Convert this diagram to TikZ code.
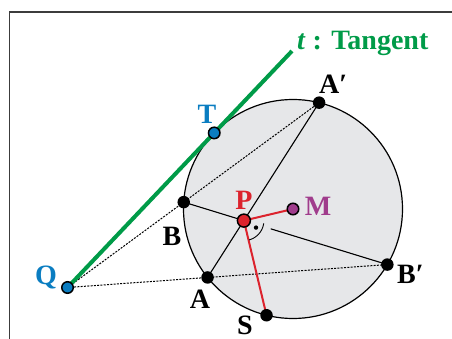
\documentclass[tikz,border=0pt]{standalone}
\usepackage{fontspec}
\setmainfont{Liberation Serif}
\usetikzlibrary{calc}
\definecolor{tgreen}{RGB}{0,155,72}
\definecolor{tblue}{RGB}{10,125,193}
\definecolor{pred}{RGB}{220,35,45}
\definecolor{mpurple}{RGB}{160,60,140}
\definecolor{cgray}{RGB}{230,231,233}
\definecolor{frame}{RGB}{60,60,60}
\tikzset{
  lab/.style={inner sep=0pt, font=\fontsize{28}{30}\selectfont\bfseries},
  chord/.style={line width=1.1pt, black},
  dashln/.style={line width=1pt, black, dash pattern=on 2pt off 1.3pt},
  redln/.style={line width=2pt, pred},
  bdot/.style={circle, fill=black, inner sep=0pt, minimum size=12.5pt},
  odot/.style={circle, draw=black, line width=1.5pt, inner sep=0pt, minimum size=11.5pt},
}
\begin{document}
\begin{tikzpicture}[x=1pt,y=-1pt]
\useasboundingbox (0,0) rectangle (452,339);
% frame
\draw[frame, line width=1.2pt] (452,12) -- (9.5,12) -- (9.5,339);
% circle
\coordinate (M) at (293,209);
\def\R{109.5}
\fill[cgray] (M) circle[radius=\R];
\draw[black, line width=1.2pt] (M) circle[radius=\R];
\coordinate (Ap) at ($(M)+(-76.2:\R)$);
\coordinate (B)  at ($(M)+(183.6:\R)$);
\coordinate (Bp) at ($(M)+(30.5:\R)$);
\coordinate (A)  at ($(M)+(141.3:\R)$);
\coordinate (S)  at ($(M)+(104:\R)$);
\coordinate (T)  at ($(M)+(-136:\R)$);
\coordinate (P) at (intersection of A--Ap and B--Bp);
\coordinate (Q) at (intersection of Ap--B and Bp--A);
\coordinate (Tend) at ($(Q)!1.53!(T)$);
\coordinate (Bgap) at ($(P)!28pt!(Bp)$);
% dashed secants
\draw[dashln] (Q) -- (Ap);
\draw[dashln] (Q) -- (Bp);
% chords
\draw[chord] (A) -- (Ap);
\draw[chord] (B) -- (P);
\draw[chord] (Bgap) -- (Bp);
% red segments
\draw[redln] (P) -- (M);
\draw[redln] (P) -- (S);
% right angle mark
\begin{scope}[shift={(P)}]
\draw[line width=0.9pt] plot[smooth, domain=75:8, samples=20] (\x:20);
\fill (30:14) circle[radius=2.2pt];
\end{scope}
% tangent
\draw[tgreen, line width=4pt] (Q) -- (Tend);
% points
\node[bdot] (nAp) at (Ap) {};
\node[bdot] (nB) at (B) {};
\node[bdot] (nBp) at (Bp) {};
\node[bdot] (nA) at (A) {};
\node[bdot] (nS) at (S) {};
\node[odot, fill=tblue] (nT) at (T) {};
\node[odot, fill=tblue] (nQ) at (Q) {};
\node[odot, fill=mpurple] (nM) at (M) {};
\node[odot, fill=pred, minimum size=13pt] (nP) at (P) {};
% labels
\node[lab, text=tgreen, anchor=base west] (lt) at (297,50) {\itshape t\/\upshape{} : Tangent};
\node[lab, anchor=base west] (lAp) at (319,94) {A′};
\node[lab, text=tblue, anchor=base] (lT) at (207,124) {T};
\node[lab, text=pred, anchor=base] (lP) at (244,209) {P};
\node[lab, text=mpurple, anchor=base] (lM) at (318,215) {M};
\node[lab, anchor=base] (lB) at (172,245) {B};
\node[lab, text=tblue, anchor=base] (lQ) at (46,284) {Q};
\node[lab, anchor=base] (lA) at (200,308) {A};
\node[lab, anchor=base] (lS) at (245,334) {S};
\node[lab, anchor=base west] (lBp) at (397,283) {B′};
\end{tikzpicture}
\end{document}
